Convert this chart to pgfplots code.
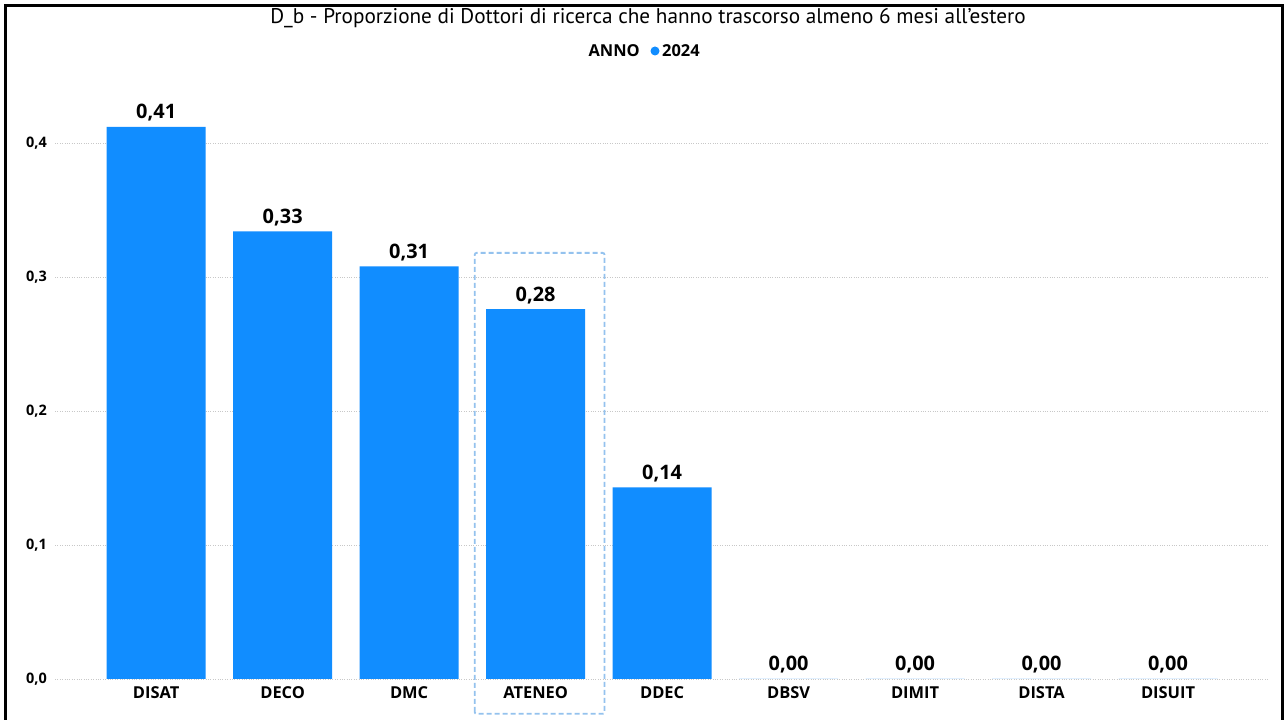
\documentclass[border=0pt]{standalone}
\usepackage{fontspec}
\setmainfont{Open Sans}
\newfontfamily\titlefont{PT Sans}
\usepackage{pgfplots}
\pgfplotsset{compat=1.18}
\definecolor{barblue}{HTML}{118DFF}
\definecolor{boxblue}{HTML}{94C2EE}
\definecolor{gridgray}{HTML}{C8C8C8}
\begin{document}
\begin{tikzpicture}[x=1bp,y=1bp]
\useasboundingbox (0,0) rectangle (1285,720);
\fill[white] (0,0) rectangle (1285,720);
\draw[black, line width=3bp] (5.5,0) -- (5.5,714.5) -- (1282,714.5) -- (1282,0);
\node[font=\titlefont\fontsize{21.3}{24}\selectfont, anchor=base] at (648,696) {D\_b - Proporzione di Dottori di ricerca che hanno trascorso almeno 6 mesi all’estero};
\node[font=\bfseries\fontsize{16.5}{19}\selectfont, anchor=base east, inner sep=0pt] at (640,663) {ANNO};
\fill[barblue] (655,669) circle (4.5bp);
\node[font=\bfseries\fontsize{16.5}{19}\selectfont, anchor=base west, inner sep=0pt] at (662,663) {2024};
\begin{axis}[
  at={(55bp,41bp)}, anchor=south west,
  scale only axis,
  width=1213bp, height=603bp,
  xmin=-0.8, xmax=8.79,
  ymin=0, ymax=0.45,
  axis line style={draw=none},
  tick style={draw=none},
  ytick={0,0.1,0.2,0.3,0.4},
  yticklabel style={font=\bfseries\fontsize{14.5}{17}\selectfont, anchor=west, inner sep=0pt, xshift=-29bp, /pgf/number format/.cd, fixed, fixed zerofill, precision=1, use comma, assume math mode=true},
  ymajorgrids,
  major grid style={gridgray, dotted, line width=0.8bp},
  xtick=data,
  xticklabels={DISAT,DECO,DMC,ATENEO,DDEC,DBSV,DIMIT,DISTA,DISUIT},
  xticklabel style={font=\bfseries\fontsize{16.5}{19}\selectfont, yshift=0bp},
  ybar, bar width=99bp,
  nodes near coords,
  nodes near coords style={font=\bfseries\fontsize{20}{23}\selectfont, yshift=2bp, /pgf/number format/.cd, fixed, fixed zerofill, precision=2, use comma, assume math mode=true},
  clip=false,
]
\addplot[fill=barblue, draw=none] coordinates {
(0,0.412) (1,0.334) (2,0.308) (3,0.276) (4,0.143) (5,0) (6,0) (7,0) (8,0)};
\draw[boxblue, line width=1.8bp, dash pattern=on 5bp off 3bp, rounded corners=2bp] (axis cs:2.518,-0.026) rectangle (axis cs:3.545,0.318);
\end{axis}
\end{tikzpicture}
\end{document}
